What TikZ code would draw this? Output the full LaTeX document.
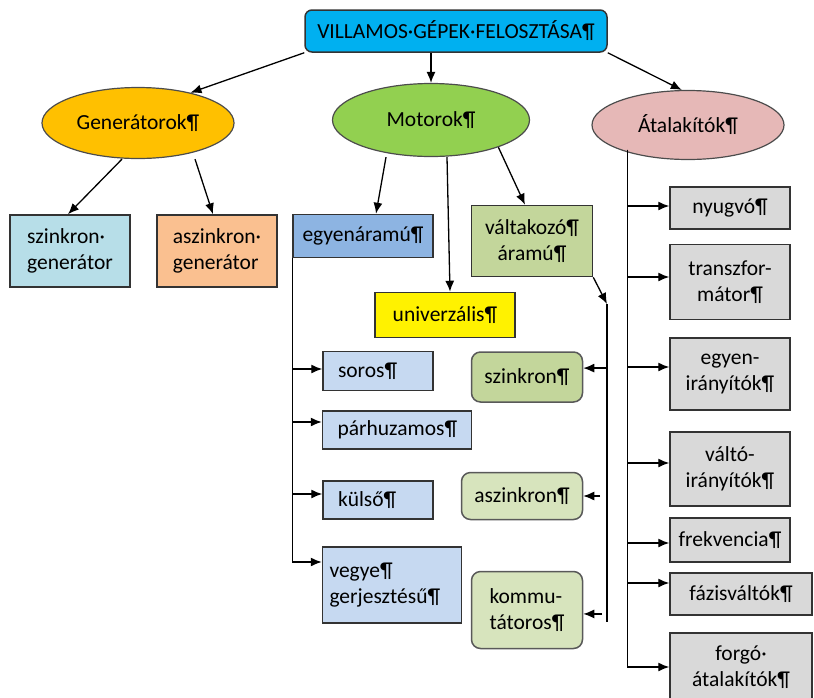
\documentclass[tikz,border=0pt]{standalone}
\usepackage{fontspec}
\setmainfont{Carlito}
\usetikzlibrary{arrows.meta, shapes.geometric}
\definecolor{titlecyan}{HTML}{00B0F0}
\definecolor{genorange}{HTML}{FFC000}
\definecolor{motgreen}{HTML}{92D050}
\definecolor{atalpink}{HTML}{E6B8B7}
\definecolor{szgenblue}{HTML}{B7DEE8}
\definecolor{aszgenorange}{HTML}{FAC090}
\definecolor{egyenblue}{HTML}{8DB4E2}
\definecolor{lightblue}{HTML}{C6D9F1}
\definecolor{valtgreen}{HTML}{C3D69B}
\definecolor{palegreen}{HTML}{D7E4BD}
\definecolor{boxgray}{HTML}{D9D9D9}

\begin{document}
\begin{tikzpicture}[x=1pt, y=-1pt,
  box/.style={draw=black!80, line width=1.5pt, align=center, inner sep=0pt,
              font=\fontsize{21.5}{26}\selectfont},
  oval/.style={box, ellipse, draw=black!70, line width=1.2pt,
               minimum width=192pt, minimum height=71pt},
  rbox/.style={box, rounded corners=9pt, draw=black!65},
  dcbox/.style={box, fill=lightblue, align=left, inner xsep=15pt},
  atbox/.style={box, fill=boxgray, minimum width=120pt},
  arrow/.style={-{Latex[length=11pt,width=9pt]}, line width=1.3pt},
  trunk/.style={line width=1.3pt}
]
  \useasboundingbox (0,0) rectangle (814,697);

  \node[box, fill=titlecyan, rounded corners=7pt, minimum width=302pt,
        minimum height=42pt] (title) at (456,31) {VILLAMOS·GÉPEK·FELOSZTÁSA¶};

  \node[oval, fill=genorange] (gen) at (138,123) {Generátorok¶};
  \node[oval, fill=motgreen, minimum width=197pt, minimum height=73pt]
    (mot) at (431,120) {Motorok¶};
  \node[oval, fill=atalpink, minimum height=69pt] (atal) at (688,125) {Átalakítók¶};

  \node[box, fill=szgenblue, align=left, minimum width=120pt, minimum height=72pt]
    (szgen) at (70,251) {szinkron·\\generátor};
  \node[box, fill=aszgenorange, align=left, minimum width=120pt, minimum height=72pt]
    (aszgen) at (217,251) {aszinkron·\\generátor};

  \node[box, fill=egyenblue, minimum width=140pt, minimum height=43pt]
    (egyen) at (363,236) {egyenáramú¶};
  \node[box, fill=valtgreen, minimum width=121pt, minimum height=71pt]
    (valt) at (532,241) {váltakozó¶\\áramú¶};
  \node[box, fill=yellow, minimum width=140pt, minimum height=45pt]
    (univ) at (445,315) {univerzális¶};

  \node[dcbox, text width=80pt, minimum height=39pt] (soros) at (378,371) {soros¶};
  \node[dcbox, text width=119pt, minimum height=38pt] (parh) at (397,430) {párhuzamos¶};
  \node[dcbox, text width=80pt, minimum height=38pt] (kulso) at (378,500) {külső¶};
  \node[dcbox, text width=125pt, inner xsep=7pt, minimum height=76pt]
    (vegye) at (392,585) {vegye¶\\gerjesztésű¶};

  \node[rbox, fill=valtgreen, minimum width=111pt, minimum height=50pt]
    (szink) at (527,377) {szinkron¶};
  \node[rbox, fill=palegreen, minimum width=121pt, minimum height=47pt]
    (aszink) at (522,496) {aszinkron¶};
  \node[rbox, fill=palegreen, align=left, minimum width=111pt, minimum height=77pt]
    (komm) at (527,610) {kommu-\\tátoros¶};

  \node[atbox, minimum height=42pt] (nyug) at (730,208) {nyugvó¶};
  \node[atbox, minimum height=75pt] (trans) at (730,282) {transzfor-\\mátor¶};
  \node[atbox, minimum height=72pt] (egyir) at (730,374) {egyen-\\irányítók¶};
  \node[atbox, minimum height=74pt] (valtir) at (730,469) {váltó-\\irányítók¶};
  \node[atbox, minimum height=44pt] (frek) at (730,540) {frekvencia¶};
  \node[atbox, minimum width=142pt, minimum height=42pt] (fazis) at (741,594) {fázisváltók¶};
  \node[atbox, minimum width=142pt, minimum height=68pt] (forgo) at (741,667)
    {forgó·\\átalakítók¶};

  \draw[arrow] (title.south west) -- (gen.30);
  \draw[arrow] (title.south -| mot.north) -- (mot.north);
  \draw[arrow] (title.south east) -- (atal.100);

  \draw[arrow] ([xshift=-16pt]gen.south) -- ([xshift=-2pt]szgen.north);
  \draw[arrow] ([xshift=57pt]gen.south) -- ([xshift=-4pt]aszgen.north);

  \draw[arrow] ([xshift=-45pt]mot.south) -- ([xshift=13pt]egyen.north);
  \draw[arrow] ([xshift=16pt]mot.south) -- ([xshift=5pt]univ.north);
  \draw[arrow] (mot.-22) -- ([xshift=-7pt]valt.north);

  \draw[arrow] (egyen.south west) |- ([yshift=2pt]soros.west);
  \draw[arrow] (egyen.south west) |- ([yshift=8pt]parh.west);
  \draw[arrow] (egyen.south west) |- ([yshift=6pt]kulso.west);
  \draw[arrow] (egyen.south west) |- ([yshift=23pt]vegye.west);

  \coordinate (vtop) at (607,304);
  \coordinate (vbot) at (607,622);
  \draw[arrow] (valt.south east) -- (vtop);
  \draw[trunk] (vtop) -- (vbot);
  \draw[arrow] (vtop |- szink.9) -- (szink.9);
  \draw[arrow] ([xshift=-7pt]vtop |- aszink.east) -- (aszink.east);
  \draw[arrow] ([xshift=-5pt]vtop |- komm.-4) -- (komm.-4);

  \coordinate (atr) at ([xshift=8pt]atal.south west);
  \draw[arrow] (atr) |- ([yshift=2pt]nyug.west);
  \draw[arrow] (atr) |- ([yshift=5pt]trans.west);
  \draw[arrow] (atr) |- ([yshift=7pt]egyir.west);
  \draw[arrow] (atr) |- ([yshift=6pt]valtir.west);
  \draw[arrow] (atr) |- ([yshift=-3pt]frek.west);
  \draw[arrow] (atr) |- ([yshift=11pt]fazis.west);
  \draw[arrow] (atr) |- (forgo.west);
\end{tikzpicture}
\end{document}
